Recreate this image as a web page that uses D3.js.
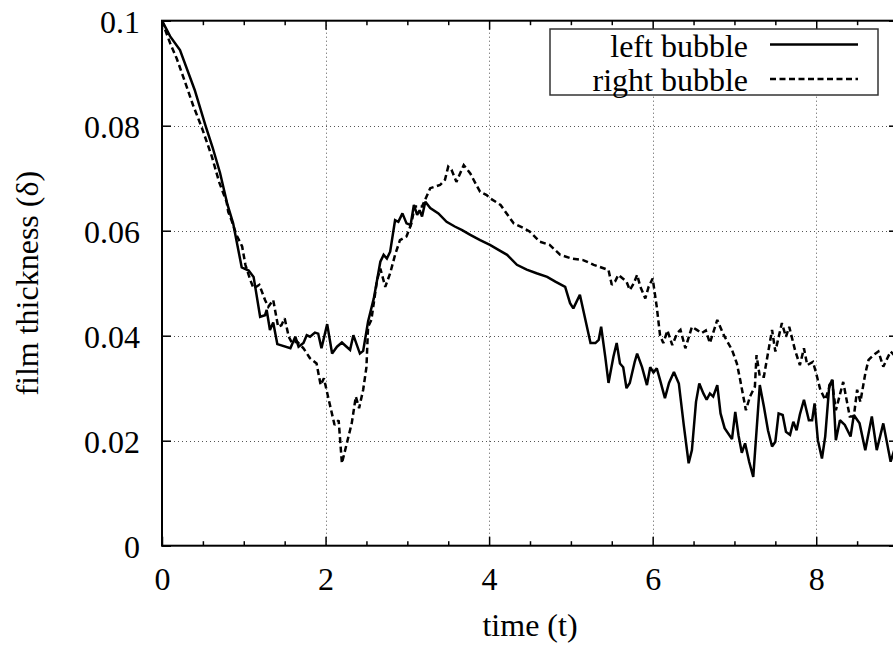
<!DOCTYPE html>
<html><head><meta charset="utf-8">
<script src="https://cdn.jsdelivr.net/npm/d3@7"></script>
<style>body{margin:0;background:#fff}svg{display:block}</style>
</head><body><svg id="c" width="893" height="648"></svg>
<script>
// ---- data (time, film thickness) ----
const leftBubble = [
[0,0.1],[0.1,0.097],[0.22,0.0944],[0.40,0.0868],[0.53,0.0801],[0.62,0.0758],[0.71,0.071],[0.80,0.065],[0.87,0.0614],[0.91,0.0582],[0.975,0.053],[1.06,0.0524],[1.12,0.0512],[1.20,0.0436],[1.26,0.0439],[1.28,0.0449],[1.32,0.0411],[1.36,0.0425],[1.41,0.0384],[1.57,0.0376],[1.63,0.0398],[1.67,0.0379],[1.73,0.0386],[1.77,0.0401],[1.81,0.0398],[1.87,0.0406],[1.91,0.0404],[1.95,0.0376],[2.02,0.0422],[2.08,0.0366],[2.14,0.0379],[2.20,0.0387],[2.25,0.038],[2.30,0.0373],[2.34,0.0401],[2.42,0.0366],[2.46,0.0371],[2.52,0.0427],[2.59,0.0471],[2.67,0.0541],[2.71,0.0554],[2.75,0.0547],[2.79,0.056],[2.85,0.062],[2.89,0.0617],[2.94,0.0633],[2.99,0.0614],[3.04,0.0611],[3.08,0.0649],[3.12,0.063],[3.15,0.0639],[3.18,0.0627],[3.22,0.0655],[3.28,0.0643],[3.38,0.0633],[3.48,0.0617],[3.58,0.0608],[3.67,0.0601],[3.77,0.0592],[3.89,0.0582],[4.01,0.0573],[4.12,0.0563],[4.22,0.0554],[4.34,0.0535],[4.46,0.0526],[4.58,0.0519],[4.71,0.0512],[4.81,0.0503],[4.93,0.0493],[4.99,0.0462],[5.03,0.0452],[5.11,0.0478],[5.24,0.0386],[5.30,0.0386],[5.34,0.0392],[5.37,0.0417],[5.42,0.036],[5.46,0.031],[5.52,0.036],[5.56,0.0386],[5.60,0.0347],[5.64,0.034],[5.68,0.030],[5.72,0.031],[5.78,0.035],[5.81,0.0366],[5.87,0.034],[5.93,0.0306],[5.97,0.034],[6.01,0.033],[6.05,0.0338],[6.09,0.0316],[6.15,0.0281],[6.20,0.031],[6.26,0.0331],[6.32,0.0309],[6.38,0.023],[6.44,0.0157],[6.48,0.0182],[6.53,0.0274],[6.57,0.0309],[6.62,0.029],[6.66,0.0278],[6.70,0.029],[6.74,0.0284],[6.79,0.0306],[6.83,0.0252],[6.88,0.0224],[6.97,0.0203],[7.01,0.0255],[7.05,0.021],[7.09,0.0177],[7.13,0.0195],[7.18,0.016],[7.23,0.0131],[7.31,0.0306],[7.36,0.0265],[7.41,0.022],[7.46,0.0189],[7.50,0.0198],[7.54,0.0252],[7.59,0.0249],[7.63,0.0217],[7.68,0.0211],[7.72,0.0236],[7.76,0.022],[7.80,0.025],[7.85,0.0278],[7.91,0.0239],[7.95,0.0239],[7.98,0.0271],[8.02,0.0201],[8.07,0.0166],[8.11,0.0208],[8.16,0.0306],[8.20,0.0316],[8.24,0.0201],[8.29,0.0239],[8.35,0.023],[8.42,0.0208],[8.46,0.0249],[8.53,0.0233],[8.60,0.0182],[8.68,0.0246],[8.74,0.0182],[8.82,0.0233],[8.91,0.016],[8.97,0.019]
];
const rightBubble = [
[0,0.1],[0.04,0.0982],[0.1,0.0957],[0.18,0.0928],[0.28,0.0884],[0.38,0.0839],[0.49,0.0795],[0.61,0.0741],[0.70,0.0692],[0.79,0.0655],[0.81,0.0636],[0.85,0.062],[0.91,0.0592],[0.98,0.057],[1.02,0.0535],[1.08,0.0506],[1.12,0.049],[1.19,0.0497],[1.26,0.0468],[1.30,0.0455],[1.36,0.0468],[1.42,0.0417],[1.46,0.042],[1.50,0.0433],[1.55,0.0398],[1.59,0.0386],[1.65,0.0389],[1.73,0.0376],[1.81,0.0357],[1.89,0.0347],[1.94,0.0306],[1.98,0.0319],[2.03,0.0284],[2.11,0.023],[2.16,0.0239],[2.20,0.0157],[2.26,0.0195],[2.32,0.0233],[2.37,0.0284],[2.41,0.0262],[2.46,0.0297],[2.50,0.034],[2.52,0.0417],[2.56,0.043],[2.63,0.0506],[2.67,0.0528],[2.73,0.0493],[2.79,0.0519],[2.85,0.0554],[2.91,0.0582],[2.99,0.0589],[3.05,0.0614],[3.09,0.0646],[3.18,0.0646],[3.28,0.0681],[3.40,0.0687],[3.46,0.0697],[3.50,0.0722],[3.54,0.0716],[3.60,0.0693],[3.69,0.0725],[3.77,0.0709],[3.81,0.0697],[3.89,0.0674],[3.97,0.0668],[4.01,0.0662],[4.14,0.0649],[4.30,0.0614],[4.42,0.0605],[4.50,0.0598],[4.62,0.0579],[4.74,0.0573],[4.87,0.0554],[5.01,0.0547],[5.15,0.0544],[5.28,0.0535],[5.46,0.0525],[5.50,0.0497],[5.54,0.0503],[5.58,0.0516],[5.68,0.0503],[5.72,0.0487],[5.77,0.05],[5.81,0.0516],[5.85,0.0493],[5.91,0.0471],[5.95,0.0493],[6.00,0.0509],[6.05,0.0455],[6.09,0.0401],[6.13,0.0386],[6.18,0.041],[6.24,0.0382],[6.30,0.0405],[6.34,0.0411],[6.40,0.0376],[6.48,0.0417],[6.54,0.0411],[6.60,0.0405],[6.65,0.041],[6.70,0.0386],[6.79,0.043],[6.87,0.0401],[6.97,0.0373],[7.03,0.0347],[7.07,0.0316],[7.14,0.0258],[7.19,0.0284],[7.25,0.0303],[7.27,0.0363],[7.31,0.0322],[7.36,0.0322],[7.46,0.0411],[7.50,0.037],[7.58,0.0424],[7.63,0.0398],[7.67,0.0417],[7.74,0.0373],[7.80,0.0344],[7.85,0.0376],[7.89,0.0344],[7.96,0.035],[8.00,0.0328],[8.05,0.0297],[8.11,0.0278],[8.19,0.0316],[8.24,0.0258],[8.33,0.0312],[8.41,0.0246],[8.46,0.0246],[8.50,0.0297],[8.54,0.0274],[8.60,0.0328],[8.64,0.0354],[8.70,0.0363],[8.76,0.037],[8.82,0.0341],[8.91,0.037],[8.97,0.036]
];
const xTicks = [0,2,4,6,8];
const xMinorTicks = [0.5,1,1.5,2.5,3,3.5,4.5,5,5.5,6.5,7,7.5,8.5];
const yTicks = [0,0.02,0.04,0.06,0.08,0.1];
const yTickLabels = ["0","0.02","0.04","0.06","0.08","0.1"];
const seriesNames = ["left bubble","right bubble"];
const xTitle = "time (t)";
const yTitle = "film thickness (δ)";

// ---- layout ----
const L = 162, R = 898, T = 20.7, B = 545.7;
const FONT = "'Liberation Serif','Times New Roman',serif";
const svg = d3.select("#c");
const x = d3.scaleLinear().domain([0,9]).range([L,R]);
const y = d3.scaleLinear().domain([0,0.1]).range([B,T]);

// grid
const grid = svg.append("g").attr("stroke","#555").attr("stroke-width",1).attr("stroke-dasharray","1,3");
grid.selectAll("line.gx").data(xTicks.filter(d=>d>0)).join("line")
  .attr("x1",d=>Math.round(x(d))+0.5).attr("x2",d=>Math.round(x(d))+0.5).attr("y1",T).attr("y2",B);
grid.selectAll("line.gy").data(yTicks.filter(d=>d>0&&d<0.1)).join("line")
  .attr("y1",d=>Math.round(y(d))+0.5).attr("y2",d=>Math.round(y(d))+0.5).attr("x1",L).attr("x2",R);

function styleAxis(g){
  g.select(".domain").remove();
  g.selectAll(".tick line").attr("stroke","#000").attr("stroke-width",1.5);
  g.selectAll("text").attr("font-family",FONT).attr("font-size",32).attr("fill","#000");
}
// bottom axis
svg.append("g").attr("transform",`translate(0,${B})`)
  .call(d3.axisBottom(x).tickValues(xTicks).tickSize(-9).tickPadding(22).tickFormat(d3.format("d")))
  .call(styleAxis);
svg.append("g").attr("transform",`translate(0,${B})`)
  .call(d3.axisBottom(x).tickValues(xMinorTicks).tickSize(-4.5).tickFormat(""))
  .call(styleAxis);
// top mirror
svg.append("g").attr("transform",`translate(0,${T})`)
  .call(d3.axisTop(x).tickValues(xTicks).tickSize(-9).tickFormat(""))
  .call(styleAxis);
svg.append("g").attr("transform",`translate(0,${T})`)
  .call(d3.axisTop(x).tickValues(xMinorTicks).tickSize(-4.5).tickFormat(""))
  .call(styleAxis);
// left axis
svg.append("g").attr("transform",`translate(${L},0)`)
  .call(d3.axisLeft(y).tickValues(yTicks).tickSize(-9).tickPadding(22).tickFormat((d,i)=>yTickLabels[i]))
  .call(styleAxis)
  .call(g=>g.selectAll("text").attr("dy","0.38em"));
// right mirror
svg.append("g").attr("transform",`translate(${R},0)`)
  .call(d3.axisRight(y).tickValues(yTicks).tickSize(-9).tickFormat(""))
  .call(styleAxis);

// border
svg.append("rect").attr("x",L).attr("y",T).attr("width",R-L).attr("height",B-T)
  .attr("fill","none").attr("stroke","#000").attr("stroke-width",2);

// clip
svg.append("clipPath").attr("id","clip").append("rect").attr("x",L).attr("y",T).attr("width",R-L).attr("height",B-T);

const line = d3.line().x(d=>x(d[0])).y(d=>y(d[1]));
const styles = [{dash:null},{dash:"6,3.5"}];
const plot = svg.append("g").attr("clip-path","url(#clip)");
[leftBubble,rightBubble].forEach((s,i)=>{
  plot.append("path").datum(s).attr("d",line).attr("fill","none").attr("stroke","#000")
    .attr("stroke-width",2.5).attr("stroke-linejoin","miter").attr("stroke-miterlimit",2)
    .attr("stroke-dasharray",styles[i].dash);
});

// legend
const lg = svg.append("g");
lg.append("rect").attr("x",550).attr("y",29).attr("width",328).attr("height",66)
  .attr("fill","#fff").attr("stroke","#333").attr("stroke-width",1.5);
const rowY = [44.5,79];
seriesNames.forEach((n,i)=>{
  lg.append("text").attr("x",748).attr("y",rowY[i]+12).attr("text-anchor","end")
    .attr("font-family",FONT).attr("font-size",32).text(n);
  lg.append("line").attr("x1",770).attr("x2",858).attr("y1",rowY[i]).attr("y2",rowY[i])
    .attr("stroke","#000").attr("stroke-width",2.5).attr("stroke-dasharray",styles[i].dash);
});

// titles
svg.append("text").attr("x",(L+R)/2).attr("y",636).attr("text-anchor","middle")
  .attr("font-family",FONT).attr("font-size",32).text(xTitle);
svg.append("text").attr("transform",`translate(38,${(T+B)/2}) rotate(-90)`).attr("text-anchor","middle")
  .attr("font-family",FONT).attr("font-size",32).text(yTitle);
</script>
</body></html>
